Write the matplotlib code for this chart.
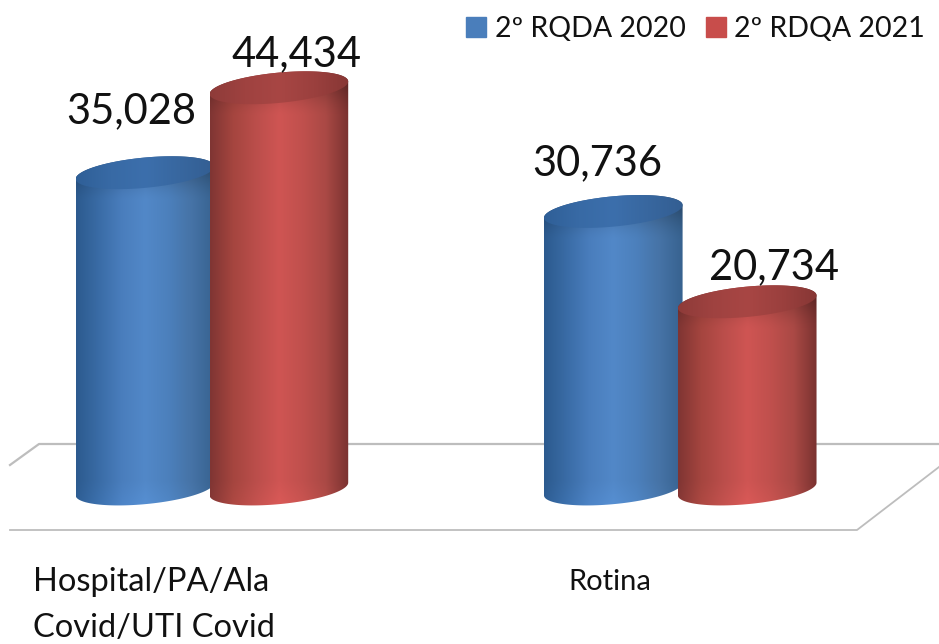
import numpy as np
import matplotlib
matplotlib.use('Agg')
import matplotlib.pyplot as plt
from matplotlib.colors import LinearSegmentedColormap
from matplotlib.patches import PathPatch, Patch
from matplotlib.path import Path

plt.rcParams['font.family'] = ['Lato', 'DejaVu Sans']

# data
categories = ['Hospital/PA/Ala\nCovid/UTI Covid', 'Rotina']
series_names = ['2º RQDA 2020', '2º RDQA 2021']
values_2020 = [35028, 30736]
values_2021 = [44434, 20734]

# look of the cylinders
blue_body = ['#2c5a8e', '#3a6ca6', '#4a7ebd', '#5288c8', '#4c80bc', '#4673a6', '#37628f']
red_body = ['#7f3533', '#a5453f', '#bb4e4b', '#cf5553', '#c0504d', '#aa4945', '#7a3230']
blue_top = ['#2f5f97', '#386aa5', '#3c6fac', '#38679f', '#335e92']
red_top = ['#8e3b39', '#9f4240', '#a84644', '#9b403e', '#873735']
half_w = 0.148
minor = 1680
shear = 700
bar_off = 0.143
band = 3200
label_dx = [[-13.5, 17.5], [-16, 26.5]]
label_dy = [[61, 34], [48, 35]]

fig = plt.figure(figsize=(9.39, 6.44), dpi=100)

# floor, in pixels
bg = fig.add_axes([0, 0, 1, 1], zorder=0)
bg.set_xlim(0, 939)
bg.set_ylim(644, 0)
bg.axis('off')
bg.plot([10, 39, 939], [465, 444, 444], color='#bdbdbd', lw=1.6)
bg.plot([10, 857, 939], [530, 530, 467], color='#bdbdbd', lw=1.3)

ax = fig.add_axes([0, 0, 1, 1], zorder=1)
ax.patch.set_alpha(0)
ax.set_xlim(-0.4525, 1.5525)
ax.set_ylim(-17165, 54153)
ax.axis('off')


def ellipse(cx, cy, t):
    return cx + half_w * np.cos(t), cy + minor * np.sin(t) + shear * np.cos(t)


def gradient(cx, y0, y1, colors, clip, dark_from=None):
    cmap = LinearSegmentedColormap.from_list('c', colors)
    rows = 400
    img = cmap(np.linspace(0, 1, 256))[None, :, :3].repeat(rows, axis=0)
    if dark_from is not None:
        # darker just under the lid, a bit brighter towards the foot
        y = np.linspace(y0, y1, rows)[:, None, None]
        shade = np.clip((y - (dark_from - band)) / band, 0, 1) ** 1.5
        foot = np.clip(1 - (y + minor) / 2500, 0, 1)
        img = np.clip(img * (1 - 0.2 * shade) * (1 + 0.05 * foot), 0, 1)
    im = ax.imshow(img, extent=[cx - half_w, cx + half_w, y0, y1], origin='lower',
                   aspect='auto', interpolation='bilinear', zorder=2)
    im.set_clip_path(clip)


def cylinder(cx, value, body, top):
    up = np.linspace(0, np.pi, 60)
    down = np.linspace(np.pi, 2 * np.pi, 60)
    xt, yt = ellipse(cx, value, up)
    xb, yb = ellipse(cx, 0, down)
    pts = np.c_[np.r_[xt, xb], np.r_[yt, yb]]
    patch = PathPatch(Path(np.r_[pts, pts[:1]], closed=True), fc='none', ec='none',
                      transform=ax.transData)
    ax.add_patch(patch)
    gradient(cx, -minor - shear, value + minor + shear, body, patch, dark_from=value)
    xl, yl = ellipse(cx, value, np.linspace(0, 2 * np.pi, 120))
    lid_patch = PathPatch(Path(np.c_[xl, yl], closed=True), fc='none', ec='none',
                          transform=ax.transData)
    ax.add_patch(lid_patch)
    gradient(cx, value - minor - shear, value + minor + shear, top, lid_patch)


for i in range(len(categories)):
    cylinder(i - bar_off, values_2020[i], blue_body, blue_top)
    cylinder(i + bar_off, values_2021[i], red_body, red_top)
    for off, v, dx, dy in zip([-bar_off, bar_off], [values_2020[i], values_2021[i]],
                              label_dx[i], label_dy[i]):
        ax.annotate(f'{v:,}', (i + off, v), xytext=(dx * 0.72, dy * 0.72),
                    textcoords='offset points', ha='center', va='center',
                    fontsize=30, color='#111111', zorder=5)

ax.annotate(categories[0], (0, 0), xytext=(-179 * 0.72, -116 * 0.72),
            textcoords='offset points', ha='left', va='center', fontsize=23.5,
            color='#111111', linespacing=1.65, zorder=5, annotation_clip=False)
ax.annotate(categories[1], (1, 0), xytext=(-70 * 0.72, -93 * 0.72),
            textcoords='offset points', ha='center', va='center', fontsize=21,
            color='#111111', zorder=5)

handles = [Patch(color='#4a7ebb'), Patch(color='#c84d4b')]
ax.legend(handles, series_names, loc='upper right', bbox_to_anchor=(1.0123, 1.015), ncol=2,
          frameon=False, fontsize=20.5, handlelength=0.7, handleheight=0.7,
          handletextpad=0.3, columnspacing=0.7, labelcolor='#111111')

fig.savefig('out.png', dpi=100)
